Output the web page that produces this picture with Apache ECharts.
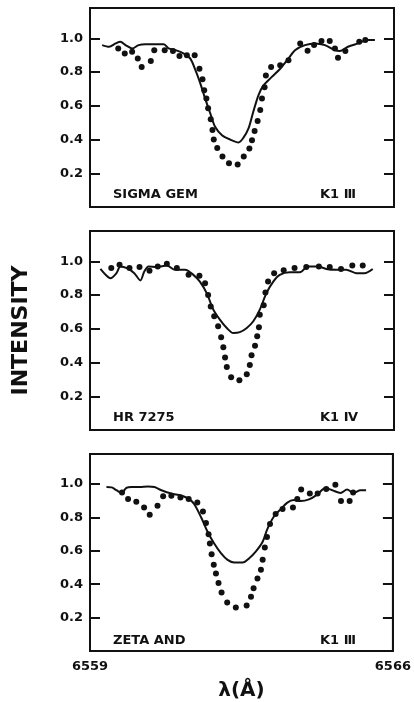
<!DOCTYPE html>
<html><head><meta charset="utf-8">
<script src="https://cdn.jsdelivr.net/npm/echarts@6/dist/echarts.min.js"></script>
<style>html,body{margin:0;padding:0;background:#fff}#c{width:414px;height:702px}</style>
</head><body><div id="c"></div>
<script>
// ---- DATA ----
const xTicks = [6559, 6566];
const yTicks = [0.2, 0.4, 0.6, 0.8, 1.0];
const starNames = ["SIGMA GEM", "HR 7275", "ZETA AND"];
const spTypes = ["K1 Ⅲ", "K1 Ⅳ", "K1 Ⅲ"];

const sigmaGemDots = [[6559.65,0.94],[6559.80,0.91],[6559.97,0.92],[6560.10,0.88],[6560.19,0.83],[6560.40,0.865],[6560.48,0.93],[6560.72,0.93],[6560.91,0.925],[6561.06,0.895],[6561.23,0.90],[6561.41,0.90],[6561.52,0.82],[6561.59,0.757],[6561.63,0.693],[6561.68,0.644],[6561.72,0.585],[6561.78,0.52],[6561.82,0.456],[6561.85,0.40],[6561.93,0.35],[6562.05,0.30],[6562.20,0.26],[6562.40,0.252],[6562.54,0.30],[6562.67,0.347],[6562.73,0.396],[6562.79,0.45],[6562.86,0.51],[6562.92,0.575],[6562.96,0.644],[6563.02,0.71],[6563.05,0.78],[6563.17,0.83],[6563.38,0.84],[6563.57,0.87],[6563.84,0.97],[6564.01,0.927],[6564.16,0.96],[6564.33,0.984],[6564.52,0.984],[6564.64,0.94],[6564.71,0.885],[6564.88,0.925],[6565.20,0.98],[6565.34,0.99]];
const sigmaGemLine = [[6559.28,0.96],[6559.44,0.95],[6559.59,0.97],[6559.70,0.98],[6559.82,0.96],[6559.97,0.94],[6560.12,0.96],[6560.28,0.965],[6560.51,0.965],[6560.70,0.965],[6560.81,0.94],[6560.97,0.93],[6561.16,0.91],[6561.31,0.88],[6561.43,0.81],[6561.54,0.733],[6561.65,0.644],[6561.77,0.555],[6561.88,0.476],[6562.04,0.426],[6562.23,0.40],[6562.42,0.383],[6562.53,0.41],[6562.65,0.466],[6562.76,0.565],[6562.88,0.664],[6562.99,0.72],[6563.18,0.77],[6563.38,0.82],[6563.57,0.88],[6563.72,0.93],[6563.95,0.96],[6564.18,0.97],[6564.41,0.96],[6564.64,0.93],[6564.75,0.925],[6564.94,0.95],[6565.17,0.97],[6565.40,0.99],[6565.56,0.99]];

const hr7275Dots = [[6559.49,0.96],[6559.68,0.98],[6559.91,0.96],[6560.14,0.967],[6560.37,0.945],[6560.56,0.97],[6560.77,0.986],[6561.00,0.96],[6561.27,0.92],[6561.52,0.915],[6561.65,0.87],[6561.72,0.80],[6561.78,0.733],[6561.86,0.675],[6561.95,0.615],[6562.02,0.55],[6562.07,0.49],[6562.11,0.43],[6562.15,0.374],[6562.25,0.313],[6562.44,0.295],[6562.61,0.33],[6562.68,0.386],[6562.72,0.443],[6562.80,0.50],[6562.85,0.556],[6562.89,0.61],[6562.91,0.684],[6563.00,0.74],[6563.04,0.816],[6563.10,0.88],[6563.24,0.93],[6563.46,0.947],[6563.71,0.96],[6563.98,0.967],[6564.27,0.97],[6564.52,0.967],[6564.78,0.955],[6565.04,0.975],[6565.28,0.975]];
const hr7275Line = [[6559.24,0.955],[6559.36,0.92],[6559.47,0.90],[6559.61,0.93],[6559.70,0.97],[6559.85,0.96],[6560.02,0.93],[6560.16,0.887],[6560.25,0.94],[6560.35,0.97],[6560.54,0.967],[6560.77,0.975],[6560.96,0.95],[6561.19,0.95],[6561.38,0.92],[6561.53,0.88],[6561.69,0.81],[6561.84,0.714],[6561.99,0.655],[6562.15,0.605],[6562.30,0.575],[6562.45,0.58],[6562.61,0.605],[6562.76,0.645],[6562.91,0.714],[6563.06,0.81],[6563.22,0.88],[6563.37,0.92],[6563.60,0.935],[6563.83,0.935],[6564.02,0.97],[6564.25,0.97],[6564.44,0.955],[6564.67,0.95],[6564.90,0.95],[6565.13,0.93],[6565.32,0.93],[6565.51,0.955]];

const zetaAndDots = [[6559.74,0.95],[6559.88,0.91],[6560.07,0.894],[6560.25,0.86],[6560.38,0.816],[6560.56,0.87],[6560.69,0.927],[6560.88,0.93],[6561.09,0.92],[6561.28,0.91],[6561.48,0.89],[6561.61,0.835],[6561.68,0.767],[6561.74,0.70],[6561.77,0.644],[6561.81,0.58],[6561.86,0.517],[6561.91,0.464],[6561.97,0.407],[6562.04,0.35],[6562.17,0.29],[6562.37,0.26],[6562.62,0.273],[6562.72,0.325],[6562.78,0.376],[6562.87,0.435],[6562.95,0.487],[6562.99,0.546],[6563.04,0.62],[6563.09,0.683],[6563.16,0.76],[6563.29,0.82],[6563.45,0.85],[6563.69,0.86],[6563.79,0.91],[6563.88,0.967],[6564.08,0.943],[6564.26,0.943],[6564.46,0.97],[6564.67,0.996],[6564.80,0.898],[6565.00,0.898],[6565.08,0.95]];
const zetaAndLine = [[6559.38,0.982],[6559.50,0.98],[6559.61,0.963],[6559.73,0.947],[6559.84,0.977],[6559.96,0.982],[6560.15,0.982],[6560.34,0.986],[6560.49,0.982],[6560.65,0.963],[6560.88,0.943],[6561.11,0.931],[6561.30,0.908],[6561.41,0.879],[6561.57,0.80],[6561.72,0.713],[6561.87,0.644],[6562.03,0.585],[6562.18,0.546],[6562.33,0.53],[6562.53,0.53],[6562.68,0.556],[6562.83,0.595],[6562.99,0.654],[6563.10,0.732],[6563.25,0.806],[6563.41,0.85],[6563.56,0.889],[6563.71,0.904],[6563.87,0.898],[6564.06,0.908],[6564.25,0.937],[6564.44,0.977],[6564.60,0.963],[6564.79,0.947],[6564.94,0.967],[6565.09,0.947],[6565.25,0.963],[6565.38,0.963]];

const panels = [
  {dots: sigmaGemDots, line: sigmaGemLine},
  {dots: hr7275Dots, line: hr7275Line},
  {dots: zetaAndDots, line: zetaAndLine}
];

// ---- LAYOUT ----
const FONT = 'DejaVu Sans';
const INK = '#111';
const gridTops = [8, 231, 454];
const gridH = 199;
const gridLeft = 90, gridRight = 20;

const grids = [], xAxes = [], yAxes = [], series = [], titles = [];
panels.forEach((p, i) => {
  const last = i === panels.length - 1;
  grids.push({left: gridLeft, right: gridRight, top: gridTops[i], height: gridH,
    show: true, borderColor: INK, borderWidth: 2, backgroundColor: 'transparent'});
  xAxes.push({type: 'value', gridIndex: i, min: xTicks[0], max: xTicks[1], interval: xTicks[1]-xTicks[0],
    axisLine: {show: false}, axisTick: {show: false}, splitLine: {show: false},
    axisLabel: {show: last, margin: 9, color: INK, fontFamily: FONT, fontWeight: 'bold', fontSize: 13,
      formatter: v => xTicks.includes(v) ? String(v) : ''},
    name: last ? 'λ(Å)' : '', nameLocation: 'middle', nameGap: 30,
    nameTextStyle: {color: INK, fontFamily: FONT, fontWeight: 'bold', fontSize: 20}});
  const yCommon = {type: 'value', gridIndex: i, min: 0, max: 1.18, interval: 0.2,
    splitLine: {show: false},
    axisLine: {show: true, lineStyle: {color: INK, width: 2}},
    axisTick: {show: true, inside: true, length: 10, lineStyle: {color: INK, width: 2}}};
  yAxes.push(Object.assign({}, yCommon, {position: 'left',
    axisLabel: {show: true, margin: 7, color: INK, fontFamily: FONT, fontWeight: 'bold', fontSize: 13,
      formatter: v => yTicks.some(t => Math.abs(t - v) < 1e-6) ? v.toFixed(1) : ''},
    name: i === 1 ? 'INTENSITY' : '', nameLocation: 'middle', nameGap: 58, nameRotate: 90,
    nameTextStyle: {color: INK, fontFamily: FONT, fontWeight: 'bold', fontSize: 22}}));
  yAxes.push(Object.assign({}, yCommon, {position: 'right', axisLabel: {show: false}}));
  series.push({type: 'line', xAxisIndex: i, yAxisIndex: 2*i, data: p.line, smooth: 0.3,
    showSymbol: false, lineStyle: {color: INK, width: 2}, z: 3, silent: true});
  series.push({type: 'scatter', xAxisIndex: i, yAxisIndex: 2*i, data: p.dots, symbol: 'circle',
    symbolSize: 6, itemStyle: {color: INK, opacity: 1}, z: 4, silent: true});
  titles.push({text: starNames[i], left: 113, top: gridTops[i] + gridH - 19, padding: 0,
    textStyle: {color: INK, fontFamily: FONT, fontWeight: 'bold', fontSize: 13}});
  titles.push({text: spTypes[i], left: 320, top: gridTops[i] + gridH - 19, padding: 0,
    textStyle: {color: INK, fontFamily: FONT, fontWeight: 'bold', fontSize: 13}});
});

const chart = echarts.init(document.getElementById('c'), null, {renderer: 'canvas'});
chart.setOption({
  animation: false, backgroundColor: '#fff',
  title: titles, grid: grids, xAxis: xAxes, yAxis: yAxes, series: series
});
</script></body></html>
